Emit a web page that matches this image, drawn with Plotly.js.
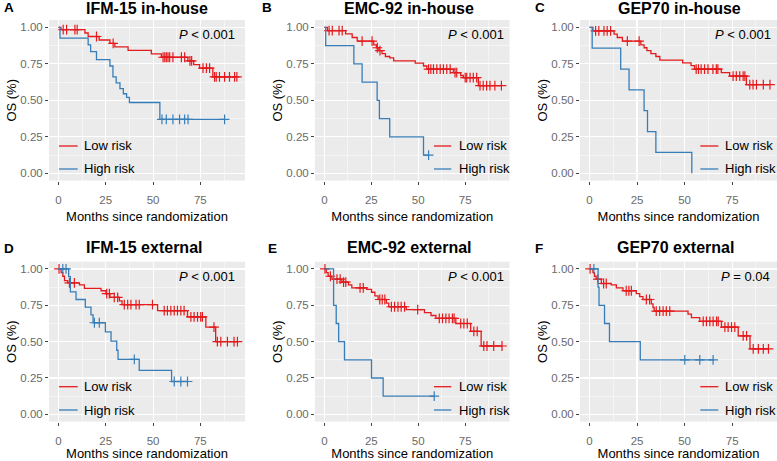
<!DOCTYPE html>
<html><head><meta charset="utf-8">
<script src="https://cdn.plot.ly/plotly-3.0.1.min.js"></script>
<style>html,body{margin:0;padding:0;background:#fff}#chart{width:777px;height:461px}</style>
</head><body><div id="chart"></div>
<script>
// ---------------- data ----------------
const panelLetters = ['A', 'B', 'C', 'D', 'E', 'F'];
const panelTitles = ['IFM-15 in-house', 'EMC-92 in-house', 'GEP70 in-house',
                     'IFM-15 external', 'EMC-92 external', 'GEP70 external'];
const pLabels = ['<i>P</i> &lt; 0.001', '<i>P</i> &lt; 0.001', '<i>P</i> &lt; 0.001',
                 '<i>P</i> &lt; 0.001', '<i>P</i> &lt; 0.001', '<i>P</i> = 0.04'];
const seriesNames = ['Low risk', 'High risk'];
const xTickVals = [0, 25, 50, 75];
const xMinorVals = [12.5, 37.5, 62.5, 87.5];
const yTickVals = [0, 0.25, 0.5, 0.75, 1];
const yTickText = ['0.00', '0.25', '0.50', '0.75', '1.00'];
const yMinorVals = [0.125, 0.375, 0.625, 0.875];
const xAxisTitle = 'Months since randomization';
const yAxisTitle = 'OS (%)';

// A: IFM-15 in-house
const A_low_time = [0, 1.3, 14.0, 15.7, 21.5, 27.2, 29.8, 36.8, 49.1, 54.4, 68.4, 71.5, 74.6, 81.6, 94.3];
const A_low_surv = [1, 0.984, 0.961, 0.937, 0.913, 0.890, 0.866, 0.842, 0.818, 0.795, 0.770, 0.745, 0.720, 0.660, 0.660];
const A_low_cens = [2.5, 4.3, 8.7, 9.9, 20.1, 28.9, 55.3, 56.2, 57.0, 57.9, 58.8, 60.5, 65.0, 66.7, 69.5, 70.4, 76.4, 78.2, 79.9, 82.5, 83.4, 85.1, 87.8, 90.4, 93.1, 94.3];
const A_high_time = [0, 0.8, 15.7, 17.0, 20.1, 27.2, 28.8, 30.5, 32.5, 34.3, 36.0, 37.5, 53.6, 87.8];
const A_high_surv = [1, 0.926, 0.88, 0.833, 0.778, 0.735, 0.66, 0.62, 0.58, 0.545, 0.52, 0.485, 0.37, 0.37];
const A_high_cens = [54.7, 57.0, 60.5, 64.0, 66.7, 68.5, 87.8];

// B: EMC-92 in-house
const B_low_time = [0, 1.6, 11.3, 14.8, 17.5, 26.3, 27.7, 29.0, 30.7, 32.5, 34.8, 36.9, 48.4, 52.8, 54.6, 68.7, 72.6, 74.0, 82.0, 94.3];
const B_low_surv = [1, 0.977, 0.955, 0.93, 0.905, 0.88, 0.86, 0.84, 0.82, 0.80, 0.79, 0.77, 0.755, 0.735, 0.713, 0.69, 0.67, 0.655, 0.60, 0.60];
const B_low_cens = [2.5, 4.2, 7.8, 9.5, 20.1, 25.4, 28.2, 29.6, 55.5, 56.7, 58.1, 59.9, 61.7, 63.4, 65.2, 67.0, 69.6, 70.5, 75.0, 75.8, 77.6, 79.3, 81.1, 82.9, 84.6, 86.4, 88.2, 90.8, 94.3];
const B_high_time = [0, 0.7, 15.7, 20.1, 28.1, 29.3, 34.8, 52.8, 55.5];
const B_high_surv = [1, 0.875, 0.75, 0.625, 0.5, 0.375, 0.25, 0.125, 0.125];
const B_high_cens = [55.5];

// C: GEP70 in-house
const C_low_time = [0, 1.8, 12.9, 14.6, 17.3, 27.0, 28.7, 30.2, 32.3, 34.9, 37.0, 49.0, 53.4, 55.2, 69.3, 73.7, 82.5, 94.9];
const C_low_surv = [1, 0.975, 0.953, 0.93, 0.905, 0.88, 0.86, 0.84, 0.82, 0.80, 0.775, 0.757, 0.737, 0.714, 0.69, 0.665, 0.608, 0.608];
const C_low_cens = [3.2, 4.9, 7.6, 9.3, 11.1, 19.9, 26.1, 56.1, 57.3, 58.7, 60.5, 62.3, 64.9, 66.7, 67.5, 75.5, 77.2, 79.0, 80.8, 81.7, 84.3, 86.0, 87.8, 91.4, 94.9];
const C_high_time = [0, 1.4, 16.4, 20.8, 28.7, 30.5, 34.9, 53.8];
const C_high_surv = [1, 0.857, 0.714, 0.571, 0.429, 0.286, 0.143, 0];
const C_high_cens = [];

// D: IFM-15 external
const D_low_time = [0, 1.4, 2.3, 3.2, 4.9, 11.1, 13.7, 22.5, 25.1, 27.2, 32.2, 33.6, 52.4, 68.2, 77.9, 83.1, 94.6];
const D_low_surv = [1, 0.975, 0.95, 0.92, 0.905, 0.89, 0.867, 0.85, 0.83, 0.805, 0.78, 0.755, 0.713, 0.67, 0.60, 0.50, 0.50];
const D_low_cens = [0.3, 5.8, 8.4, 25.5, 26.9, 29.5, 31.3, 34.8, 36.6, 38.3, 41.0, 42.7, 49.7, 55.9, 57.6, 59.4, 61.2, 62.9, 64.7, 66.4, 70.0, 71.7, 73.5, 75.2, 76.1, 82.2, 84.0, 85.8, 89.3, 92.8, 94.6];
const D_high_time = [0, 5.4, 6.3, 9.3, 14.2, 17.2, 18.3, 24.8, 27.8, 30.8, 31.5, 42.7, 59.8, 68.2];
const D_high_surv = [1, 0.947, 0.842, 0.79, 0.737, 0.684, 0.63, 0.567, 0.504, 0.441, 0.378, 0.302, 0.226, 0.226];
const D_high_cens = [2.3, 4.0, 19.0, 21.6, 40.1, 61.2, 64.7, 68.2];

// E: EMC-92 external
const E_low_time = [0, 1.0, 2.0, 4.0, 9.3, 12.8, 14.6, 22.5, 25.1, 26.9, 28.6, 33.0, 34.3, 43.6, 53.3, 56.8, 59.4, 70.0, 77.9, 83.5, 94.6];
const E_low_surv = [1, 0.975, 0.95, 0.93, 0.91, 0.89, 0.87, 0.86, 0.84, 0.815, 0.79, 0.765, 0.74, 0.72, 0.70, 0.68, 0.66, 0.625, 0.57, 0.47, 0.47];
const E_low_cens = [0.3, 3.2, 6.7, 8.4, 10.2, 11.4, 19.0, 20.7, 29.5, 30.8, 32.2, 35.7, 37.4, 39.2, 40.9, 42.7, 49.7, 61.2, 62.9, 64.7, 66.4, 68.2, 69.1, 72.6, 74.3, 76.1, 79.6, 81.4, 84.9, 86.6, 90.2, 94.6];
const E_high_time = [0, 4.9, 6.3, 7.6, 10.7, 25.1, 31.3, 58.5];
const E_high_surv = [1, 0.75, 0.625, 0.5, 0.375, 0.25, 0.125, 0.125];
const E_high_cens = [58.5];

// F: GEP70 external
const F_low_time = [0, 1.8, 2.6, 3.5, 6.2, 11.4, 14.1, 17.6, 24.6, 26.4, 28.1, 32.5, 33.4, 34.0, 51.8, 53.6, 58.0, 69.4, 78.2, 84.4, 94.1];
const F_low_surv = [1, 0.975, 0.95, 0.93, 0.90, 0.89, 0.87, 0.85, 0.83, 0.81, 0.79, 0.76, 0.735, 0.71, 0.69, 0.665, 0.64, 0.60, 0.54, 0.45, 0.45];
const F_low_cens = [0.3, 4.4, 7.4, 8.8, 19.3, 20.7, 22.0, 29.9, 31.6, 35.1, 36.9, 38.7, 40.4, 42.2, 59.8, 61.5, 63.3, 65.0, 66.8, 67.7, 71.2, 72.9, 74.7, 76.4, 80.8, 82.6, 86.1, 88.8, 91.4, 94.1];
const F_high_time = [0, 4.5, 5.0, 7.9, 10.5, 26.7, 65.0];
const F_high_surv = [1, 0.875, 0.75, 0.625, 0.5, 0.375, 0.375];
const F_high_cens = [2.3, 50.1, 58.0, 65.0];

const lowTimes = [A_low_time, B_low_time, C_low_time, D_low_time, E_low_time, F_low_time];
const lowSurvs = [A_low_surv, B_low_surv, C_low_surv, D_low_surv, E_low_surv, F_low_surv];
const lowCens  = [A_low_cens, B_low_cens, C_low_cens, D_low_cens, E_low_cens, F_low_cens];
const highTimes = [A_high_time, B_high_time, C_high_time, D_high_time, E_high_time, F_high_time];
const highSurvs = [A_high_surv, B_high_surv, C_high_surv, D_high_surv, E_high_surv, F_high_surv];
const highCens  = [A_high_cens, B_high_cens, C_high_cens, D_high_cens, E_high_cens, F_high_cens];

// ---------------- styling / layout ----------------
const W = 777, H = 461;
const COLORS = ['#E41A1C', '#377EB8'];
const FONT = 'Liberation Sans, Arial, Helvetica, sans-serif';
const colPx = [[49, 245], [315, 509.5], [580, 777]];
const rowPx = [[20, 180.6], [261.7, 421.6]];
const xRange = [-5.0, 98.6];
const yRange = [-0.05, 1.05];
const letterPos = [[2, 7.5], [260, 7.5], [533, 7.5], [2, 248], [266, 248], [533, 248]];
const titlePos = [[146.7, 8], [408.5, 8], [679, 8], [144, 247.5], [409, 247.5], [675.5, 247.5]];
const pPos = [[237.3, 34.5], [506.3, 34.5], [772.7, 34.5], [237.3, 276], [506.3, 276], [772, 276]];
const legendLineX = [[59, 77.7], [434, 451.3], [700.3, 718.3], [59, 77.7], [434, 451.3], [700.3, 718.3]];
const legendTextX = [81.7, 457, 722.7, 81.7, 457, 722.7];
const legendY = [[146, 169], [146, 169], [146, 169], [386.7, 410], [386.7, 410], [386.7, 410]];

const px = v => v / W;
const py = v => 1 - v / H;

function survAt(times, survs, t) {
  let s = survs[0];
  for (let i = 0; i < times.length; i++) { if (times[i] <= t) s = survs[i]; }
  return s;
}

const traces = [];
const layout = {
  width: W, height: H,
  margin: {l: 0, r: 0, t: 0, b: 0},
  paper_bgcolor: '#ffffff',
  plot_bgcolor: '#EBEBEB',
  showlegend: false,
  font: {family: FONT, color: '#000'},
  annotations: [],
  shapes: []
};

for (let i = 0; i < 6; i++) {
  const n = i + 1;
  const xa = 'x' + (n === 1 ? '' : n), ya = 'y' + (n === 1 ? '' : n);
  const col = i % 3, row = Math.floor(i / 3);
  const groups = [[lowTimes[i], lowSurvs[i], lowCens[i]], [highTimes[i], highSurvs[i], highCens[i]]];
  groups.forEach((g, k) => {
    traces.push({
      type: 'scatter', mode: 'lines', x: g[0], y: g[1], xaxis: xa, yaxis: ya,
      name: seriesNames[k], line: {color: COLORS[k], width: 1.3, shape: 'hv'},
      hoverinfo: 'skip', showlegend: false
    });
    traces.push({
      type: 'scatter', mode: 'markers', x: g[2], y: g[2].map(t => survAt(g[0], g[1], t)),
      xaxis: xa, yaxis: ya, name: seriesNames[k] + ' (censored)',
      marker: {symbol: 'cross-thin', size: 7, line: {color: COLORS[k], width: 1.2}, color: COLORS[k]},
      hoverinfo: 'skip', showlegend: false
    });
  });
  const common = {
    showline: false, zeroline: false, ticks: 'outside', ticklen: 3, tickwidth: 1,
    tickcolor: '#444', gridcolor: '#ffffff', gridwidth: 1.1,
    tickfont: {family: FONT, size: 11.5, color: '#6a6a6a'}, fixedrange: true
  };
  layout['xaxis' + (n === 1 ? '' : n)] = Object.assign({}, common, {
    domain: [px(colPx[col][0]), px(colPx[col][1])], anchor: ya, range: xRange,
    tickmode: 'array', tickvals: xTickVals, ticktext: xTickVals.map(String),
    ticklabelstandoff: 6,
    minor: {tickmode: 'array', tickvals: xMinorVals, showgrid: true, gridcolor: '#ffffff', gridwidth: 0.5, ticks: ''},
    title: {text: xAxisTitle, font: {family: FONT, size: 13, color: '#000'}, standoff: 5.5}
  });
  layout['yaxis' + (n === 1 ? '' : n)] = Object.assign({}, common, {
    domain: [py(rowPx[row][1]), py(rowPx[row][0])], anchor: xa, range: yRange,
    tickmode: 'array', tickvals: yTickVals, ticktext: yTickText,
    minor: {tickmode: 'array', tickvals: yMinorVals, showgrid: true, gridcolor: '#ffffff', gridwidth: 0.5, ticks: ''},
    title: {text: yAxisTitle, font: {family: FONT, size: 13, color: '#000'}, standoff: 0}
  });

  layout.annotations.push({xref: 'paper', yref: 'paper', x: px(letterPos[i][0]), y: py(letterPos[i][1]),
    xanchor: 'left', yanchor: 'middle', showarrow: false, text: '<b>' + panelLetters[i] + '</b>',
    font: {family: FONT, size: 13.5, color: '#000'}});
  layout.annotations.push({xref: 'paper', yref: 'paper', x: px(titlePos[i][0]), y: py(titlePos[i][1]),
    xanchor: 'center', yanchor: 'middle', showarrow: false, text: '<b>' + panelTitles[i] + '</b>',
    font: {family: FONT, size: 16, color: '#000'}});
  layout.annotations.push({xref: 'paper', yref: 'paper', x: px(pPos[i][0]), y: py(pPos[i][1]),
    xanchor: 'right', yanchor: 'middle', showarrow: false, text: pLabels[i],
    font: {family: FONT, size: 13, color: '#000'}});
  for (let k = 0; k < 2; k++) {
    layout.shapes.push({type: 'line', xref: 'paper', yref: 'paper',
      x0: px(legendLineX[i][0]), x1: px(legendLineX[i][1]), y0: py(legendY[i][k]), y1: py(legendY[i][k]),
      line: {color: COLORS[k], width: 1.3}});
    layout.annotations.push({xref: 'paper', yref: 'paper', x: px(legendTextX[i]), y: py(legendY[i][k]),
      xanchor: 'left', yanchor: 'middle', showarrow: false, text: seriesNames[k],
      font: {family: FONT, size: 13, color: '#000'}});
  }
}

Plotly.newPlot('chart', traces, layout, {staticPlot: true, displayModeBar: false});
</script>
</body></html>
